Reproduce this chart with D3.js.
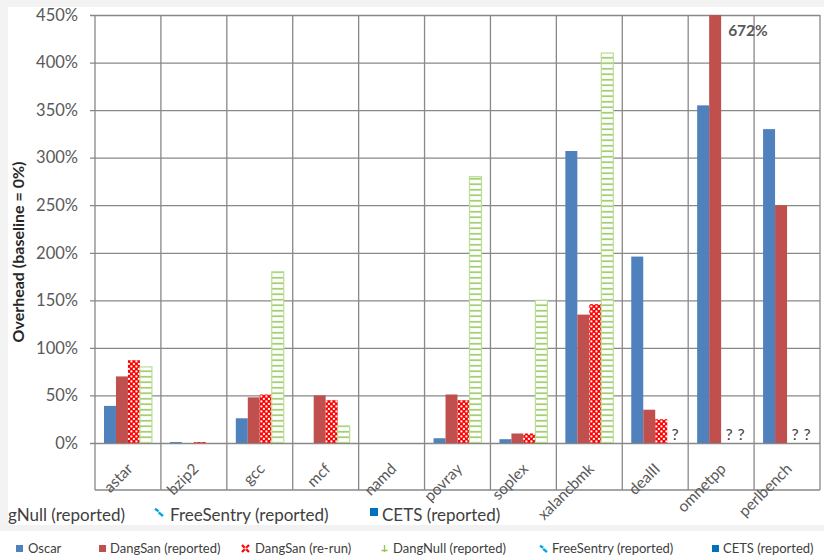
<!DOCTYPE html>
<html>
<head>
<meta charset="utf-8">
<script src="https://cdn.jsdelivr.net/npm/d3@7"></script>
<style>
  body { margin: 0; background: #fff; }
  svg { display: block; }
  text { font-family: Lato, "Open Sans", sans-serif; }
</style>
</head>
<body>
<svg id="chart" width="824" height="556"></svg>
<script>
// Benchmarks (SPEC CPU2006)
const categories = ["astar", "bzip2", "gcc", "mcf", "namd", "povray", "soplex",
                    "xalancbmk", "dealII", "omnetpp", "perlbench"];

// Overhead in percent; null = no number available (shown as "?")
const oscar            = [39, 1, 26, 0, 0, 5, 4, 307, 196, 355, 330];
const dangsanReported  = [70, 0, 48, 50, 0, 51, 10, 135, 35, 672, 250];
const dangsanRerun     = [87, 1, 51, 45, 0, 45, 10, 146, 25, null, null];
const dangnullReported = [80, 0, 180, 18, 0, 280, 150, 410, null, null, null];

const seriesNames = ["Oscar", "DangSan (reported)", "DangSan (re-run)",
                     "DangNull (reported)", "FreeSentry (reported)", "CETS (reported)"];
const yTickValues = [0, 50, 100, 150, 200, 250, 300, 350, 400, 450];
const yMax = 450;

const series = [
  { name: seriesNames[0], values: oscar,            fill: "#4F81BD" },
  { name: seriesNames[1], values: dangsanReported,  fill: "#C0504D" },
  { name: seriesNames[2], values: dangsanRerun,     fill: "url(#checker)" },
  { name: seriesNames[3], values: dangnullReported, fill: "url(#ladder)", stroke: "#B9DE95" }
];

const svg = d3.select("#chart");

// ---- patterns ----
const defs = svg.append("defs");
const checker = defs.append("pattern").attr("id", "checker")
  .attr("patternUnits", "userSpaceOnUse").attr("width", 5).attr("height", 5);
checker.append("rect").attr("width", 5).attr("height", 5).attr("fill", "#FF0000");
checker.append("rect").attr("x", 0.4).attr("y", 0.4).attr("width", 2).attr("height", 2).attr("fill", "#fff");
checker.append("rect").attr("x", 2.9).attr("y", 2.9).attr("width", 2).attr("height", 2).attr("fill", "#fff");

const ladder = defs.append("pattern").attr("id", "ladder")
  .attr("patternUnits", "userSpaceOnUse").attr("width", 12).attr("height", 5.5);
ladder.append("rect").attr("width", 12).attr("height", 5.5).attr("fill", "#fff");
ladder.append("line").attr("x1", 0).attr("x2", 12).attr("y1", 2.75).attr("y2", 2.75)
  .attr("stroke", "#8FC655").attr("stroke-width", 1.5);

defs.append("clipPath").attr("id", "plotClip")
  .append("rect").attr("x", 95).attr("y", 15).attr("width", 725).attr("height", 428);

// ---- page frame ----
svg.append("rect").attr("width", 824).attr("height", 556).attr("fill", "#f3f3f3");
svg.append("rect").attr("x", 8).attr("y", 7).attr("width", 816).attr("height", 518).attr("fill", "#fff");
svg.append("rect").attr("x", 0).attr("y", 531).attr("width", 824).attr("height", 25).attr("fill", "#fff");

// ---- scales ----
const plotLeft = 95, plotRight = 820, plotTop = 15, zeroY = 443, boxBottom = 490;
const x = d3.scaleBand().domain(categories).range([plotLeft, plotRight]);
const xs = d3.scaleBand().domain(d3.range(series.length)).range([0, x.bandwidth()]).paddingOuter(0.75);
const y = d3.scaleLinear().domain([0, yMax]).range([zeroY, plotTop]);

const gridColor = "#888888";

// horizontal gridlines + y labels
const yAxis = d3.axisLeft(y).tickValues(yTickValues)
  .tickFormat(d => d + "%").tickSizeInner(-(plotRight - 90)).tickSizeOuter(0).tickPadding(12);
const gy = svg.append("g").attr("transform", "translate(90,0)").call(yAxis);
gy.select(".domain").remove();
gy.selectAll(".tick line").attr("stroke", gridColor).attr("stroke-width", 1.3);
gy.selectAll(".tick text").attr("fill", "#595959").style("font-size", "16.5px")
  .style("font-family", "Lato, sans-serif");

// vertical category separators (full height incl. label box)
const bounds = categories.map(c => x(c)).concat([plotRight]);
svg.append("g").selectAll("line").data(bounds).join("line")
  .attr("x1", d => d).attr("x2", d => d).attr("y1", plotTop).attr("y2", boxBottom)
  .attr("stroke", gridColor).attr("stroke-width", 1.3);
svg.append("line").attr("x1", plotLeft).attr("x2", plotRight).attr("y1", boxBottom).attr("y2", boxBottom)
  .attr("stroke", gridColor).attr("stroke-width", 1.3);

// ---- bars ----
const barsG = svg.append("g").attr("clip-path", "url(#plotClip)");
series.forEach((s, si) => {
  barsG.append("g").selectAll("rect")
    .data(categories.map((c, i) => ({ c, v: s.values[i] })).filter(d => d.v != null && d.v > 0))
    .join("rect")
    .attr("x", d => x(d.c) + xs(si))
    .attr("width", xs.bandwidth())
    .attr("y", d => y(d.v))
    .attr("height", d => zeroY - y(d.v))
    .attr("fill", s.fill)
    .attr("stroke", s.stroke || "none")
    .attr("stroke-width", s.stroke ? 1.2 : 0);
});

// "?" where no measurement exists
series.forEach((s, si) => {
  svg.append("g").selectAll("text")
    .data(categories.map((c, i) => ({ c, v: s.values[i] })).filter(d => d.v == null))
    .join("text")
    .attr("x", d => x(d.c) + xs(si) + xs.bandwidth() / 2 + 2)
    .attr("y", zeroY - 3)
    .attr("text-anchor", "middle")
    .attr("fill", "#404040")
    .style("font-size", "16px")
    .text("?");
});

// value label for the clipped bar
const clipped = categories.map((c, i) => ({ c, v: dangsanReported[i] })).filter(d => d.v > yMax);
svg.append("g").selectAll("text").data(clipped).join("text")
  .attr("x", d => x(d.c) + xs(1) + xs.bandwidth() + 7)
  .attr("y", 36)
  .attr("fill", "#595959")
  .style("font-size", "15.5px").style("font-weight", "bold")
  .text(d => d.v + "%");

// ---- category labels ----
const xAxis = d3.axisBottom(x).tickSize(0).tickPadding(0);
const gx = svg.append("g").attr("transform", `translate(0,${zeroY})`).call(xAxis);
gx.select(".domain").remove();
gx.selectAll(".tick text")
  .attr("fill", "#595959")
  .style("font-size", "15.5px").style("font-family", "Lato, sans-serif")
  .attr("text-anchor", "end")
  .attr("dy", "0.35em")
  .attr("y", 0)
  .attr("transform", "translate(2,23) rotate(-45)");

// ---- axis title ----
svg.append("text")
  .attr("transform", "translate(24,252) rotate(-90)")
  .attr("text-anchor", "middle")
  .attr("fill", "#262626")
  .style("font-size", "16px").style("font-weight", "bold")
  .text("Overhead (baseline = 0%)");

// ---- legend icons ----
function drawIcon(g, idx, size) {
  const s = size;
  if (idx === 0) g.append("rect").attr("width", s).attr("height", s).attr("fill", "#4F81BD");
  else if (idx === 1) g.append("rect").attr("width", s).attr("height", s).attr("fill", "#C0504D");
  else if (idx === 2) {
    g.append("path").attr("d", `M0,0L${s},${s}M${s},0L0,${s}`).attr("stroke", "#FF0000").attr("stroke-width", 2.2);
    g.append("rect").attr("x", s / 2 - 1).attr("y", s / 2 - 1).attr("width", 2).attr("height", 2).attr("fill", "#fff");
  }
  else if (idx === 3) {
    g.append("path").attr("d", `M${s / 2},0V${s}M${s / 2 - 3},${s - 1.5}H${s / 2 + 3}`)
      .attr("stroke", "#92C85A").attr("stroke-width", 1.4);
  }
  else if (idx === 4) {
    g.append("path").attr("d", `M0,${s * 0.1}L${s * 0.45},${s * 0.4}M${s * 0.45},${s * 0.55}L${s},${s}`)
      .attr("stroke", "#00A6E8").attr("stroke-width", 2.4);
  }
  else g.append("rect").attr("width", s).attr("height", s).attr("fill", "#0070C0");
}

// bottom legend row
const legendItems = [
  { i: 0, ix: 16, tx: 28 },
  { i: 1, ix: 99, tx: 110 },
  { i: 2, ix: 242, tx: 255 },
  { i: 3, ix: 381, tx: 393 },
  { i: 4, ix: 540, tx: 552 },
  { i: 5, ix: 712, tx: 723 }
];
const lg = svg.append("g");
legendItems.forEach(d => {
  drawIcon(lg.append("g").attr("transform", `translate(${d.ix},${545})`), d.i, 7);
  lg.append("text").attr("x", d.tx).attr("y", 553).attr("fill", "#404040")
    .style("font-size", "13px").text(seriesNames[d.i]);
});

// second, partly cut-off legend row above it
const lg2 = svg.append("g");
lg2.append("text").attr("x", 8).attr("y", 521).attr("fill", "#404040")
  .style("font-size", "17px").text(seriesNames[3].slice(3));
drawIcon(lg2.append("g").attr("transform", "translate(155,508)"), 4, 8);
lg2.append("text").attr("x", 170).attr("y", 521).attr("fill", "#404040")
  .style("font-size", "17px").text(seriesNames[4]);
drawIcon(lg2.append("g").attr("transform", "translate(370,508)"), 5, 8);
lg2.append("text").attr("x", 382).attr("y", 521).attr("fill", "#404040")
  .style("font-size", "17px").text(seriesNames[5]);

// thin band between the two legend rows
svg.append("rect").attr("x", 0).attr("y", 525).attr("width", 824).attr("height", 6).attr("fill", "#f2f2f2");
</script>
</body>
</html>
